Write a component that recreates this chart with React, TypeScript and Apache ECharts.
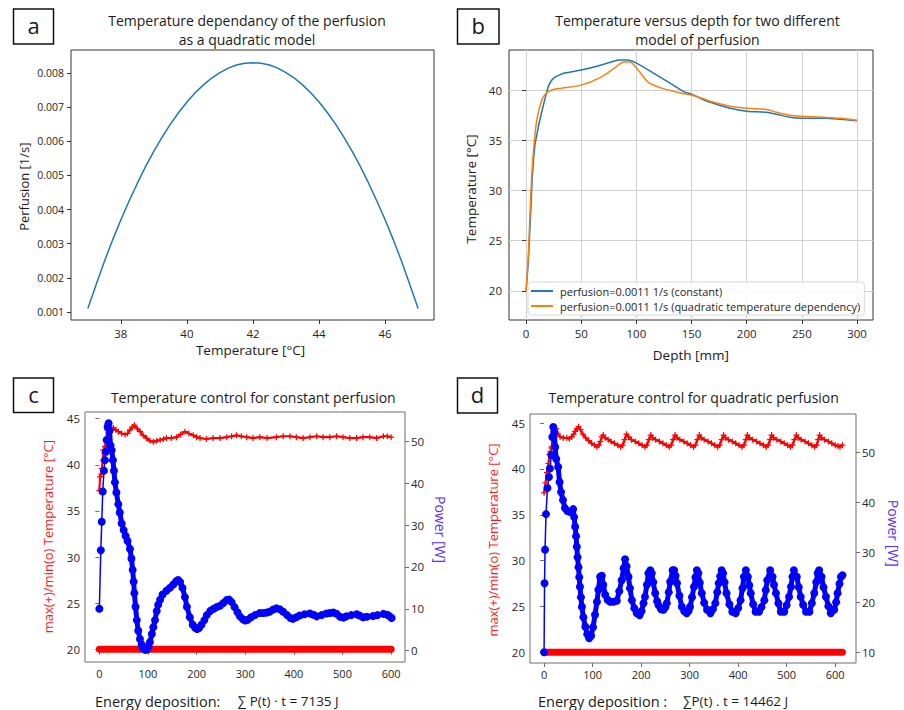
import React, { useEffect, useRef } from "react";
import * as echarts from "echarts";

// ---------- Panel a: perfusion vs temperature ----------
const tempA = [37, 37.25, 37.5, 37.75, 38, 38.25, 38.5, 38.75, 39, 39.25, 39.5, 39.75, 40, 40.25, 40.5, 40.75, 41, 41.25, 41.5, 41.75, 42, 42.25, 42.5, 42.75, 43, 43.25, 43.5, 43.75, 44, 44.25, 44.5, 44.75, 45, 45.25, 45.5, 45.75, 46, 46.25, 46.5, 46.75, 47];
const perfA = [0.0011, 0.0018, 0.00248, 0.00311, 0.0037, 0.00425, 0.00477, 0.00526, 0.00571, 0.00612, 0.0065, 0.00684, 0.00715, 0.00742, 0.00765, 0.00785, 0.00801, 0.00814, 0.00823, 0.00828, 0.0083, 0.00828, 0.00823, 0.00814, 0.00801, 0.00785, 0.00765, 0.00742, 0.00715, 0.00684, 0.0065, 0.00612, 0.00571, 0.00526, 0.00477, 0.00425, 0.0037, 0.00311, 0.00248, 0.0018, 0.0011];
const ticksAX = [38, 40, 42, 44, 46];
const ticksAY = [0.001, 0.002, 0.003, 0.004, 0.005, 0.006, 0.007, 0.008];

// ---------- Panel b: temperature vs depth ----------
const depthConst = [0, 2, 4, 6, 8, 10, 12, 15, 18, 21, 25, 30, 35, 50, 65, 77, 85, 92, 100, 114, 129, 144, 150, 162, 167, 185, 200, 218, 227, 239, 250, 270, 285, 300];
const tempConst = [20, 23, 27.5, 32, 34.5, 35.7, 36.8, 38.2, 39.5, 40.6, 41.2, 41.5, 41.7, 42.0, 42.4, 42.8, 43.0, 43.0, 42.7, 41.8, 40.8, 39.8, 39.6, 39.0, 38.8, 38.2, 37.9, 37.8, 37.6, 37.3, 37.2, 37.2, 37.1, 36.95];
const depthQuad = [0, 2, 4, 6, 8, 10, 13.6, 16.6, 22.7, 32, 50, 68, 80, 89, 94, 101.5, 110.6, 122.7, 141, 150, 162, 167, 185, 200, 218, 227, 239, 250, 270, 285, 300];
const tempQuad = [20, 23.5, 29, 33, 35.5, 37.2, 38.8, 39.5, 40.0, 40.2, 40.5, 41.3, 42.2, 42.8, 42.8, 42.0, 40.8, 40.2, 39.7, 39.5, 39.1, 38.9, 38.4, 38.2, 38.07, 37.8, 37.5, 37.4, 37.3, 37.2, 37.0];
const ticksBX = [0, 50, 100, 150, 200, 250, 300];
const ticksBY = [20, 25, 30, 35, 40];
const legendB = ["perfusion=0.0011 1/s (constant)", "perfusion=0.0011 1/s (quadratic temperature dependency)"];

// ---------- Panel c: constant perfusion control ----------
const minTempC: number[][] = [[0, 20], [100, 20], [200, 20], [300, 20], [400, 20], [500, 20], [600, 20]];
const maxTempC: number[][] = [[0, 37.2], [1.5, 38.7], [4, 39], [5, 39.6], [7, 40.5], [8, 41.6], [10, 41.3], [12, 42], [14, 42.7], [16, 43.8], [19, 43.5], [22, 44.1], [26, 43.8], [29, 44], [34, 43.8], [39, 43.6], [46, 43.4], [53, 43.3], [58, 43.4], [63, 43.8], [68, 44.1], [72, 44.3], [78, 43.9], [84, 43.6], [90, 43.2], [97, 42.9], [104, 42.6], [111, 42.5], [118, 42.6], [125, 42.7], [132, 42.8], [138, 42.9], [148, 42.9], [159, 43], [167, 43.3], [176, 43.6], [184, 43.4], [193, 43.2], [200, 43], [207, 42.9], [220, 42.8], [234, 42.9], [248, 42.9], [262, 43], [272, 43.1], [282, 43.2], [292, 43.1], [303, 43], [316, 42.9], [330, 43], [345, 42.9], [364, 43], [378, 43.1], [392, 43.1], [405, 43], [419, 42.9], [433, 43], [447, 43.1], [460, 43], [474, 43], [488, 43.1], [501, 43], [515, 42.9], [529, 42.9], [542, 43], [556, 43], [570, 42.9], [584, 43.1], [592, 43.1], [600, 43]];
const powerC: number[][] = [[0, 10], [3, 24], [5, 30.8], [7, 38], [9.5, 43], [11.5, 45.5], [13.5, 47.5], [15, 50.3], [17, 53.5], [19, 54.3], [21, 52.5], [23, 49], [25.5, 47.9], [28, 45.5], [30, 43], [32, 40.2], [35, 37.8], [39, 35], [42, 33], [46, 30.4], [50, 28.8], [54, 27.4], [58, 26.2], [63, 24.3], [66, 22], [68.5, 19.3], [70.5, 16.5], [72, 13.7], [74.5, 10.5], [77, 7.3], [80, 4.8], [83.5, 2.8], [87, 1.5], [90, 0.6], [94, 0.2], [98, 0.3], [101, 1], [104, 2], [108, 4], [111, 5.6], [114.5, 7.3], [118, 9.5], [121, 11], [125, 12.2], [130, 13.4], [138, 14.3], [145, 15], [152, 15.8], [158, 16.6], [162, 16.9], [166, 16.4], [171, 15], [176, 12.8], [180, 10.5], [186, 8], [192, 6.2], [197, 5.5], [201, 5.2], [205, 5.4], [210, 6.2], [216, 7.3], [221, 8.5], [228, 9.5], [235, 10], [241, 10.4], [248, 10.7], [255, 11.4], [262, 12.1], [267, 12.2], [272, 11.6], [278, 10.4], [284, 9.2], [289, 8.2], [295, 7.5], [300, 7.2], [305, 7.4], [312, 8], [320, 8.5], [330, 9], [337, 9], [344, 9.1], [350, 9.3], [357, 9.8], [364, 10.1], [371, 9.9], [378, 9.3], [386, 8.5], [393, 7.8], [398, 7.6], [405, 8], [412, 8.4], [422, 8.7], [433, 8.9], [440, 8.6], [447, 8.2], [457, 8.5], [467, 8.9], [474, 9], [481, 9.1], [488, 8.8], [495, 8.1], [502, 7.9], [508, 8.2], [518, 8.5], [529, 8.7], [535, 8.4], [542, 8], [550, 8.1], [563, 8.3], [572, 8.5], [584, 8.8], [592, 8.6], [597, 8.2], [601, 7.8]];

// ---------- Panel d: quadratic perfusion control ----------
const minTempD: number[][] = [[0, 20], [100, 20], [200, 20], [300, 20], [400, 20], [500, 20], [615, 20]];
const maxTempD: number[][] = [[0, 37.4], [3, 38.5], [6, 39.6], [9, 40.6], [11, 41.6], [13, 41.9], [15, 42.3], [17, 42.5], [19, 43.8], [22, 44.2], [25, 44.4], [28, 43.9], [33, 43.5], [40, 43.4], [47, 43.4], [52, 43.3], [57, 43.5], [61, 43.8], [64, 44.1], [68, 44.4], [71, 44.6], [75, 44.3], [80, 43.8], [86, 43.4], [92, 43.1], [98, 42.8], [104, 42.6], [109, 42.4], [113, 42.6], [116, 43], [119, 43.5], [122, 43.7], [126, 43.4], [132, 43.2], [138, 43], [145, 42.8], [152, 42.6], [158, 42.4], [162, 42.6], [166, 43.2], [170, 43.8], [174, 43.5], [180, 43.2], [188, 43], [195, 42.8], [202, 42.6], [208, 42.4], [212, 42.6], [216, 43.2], [220, 43.7], [224, 43.4], [230, 43.2], [238, 43], [245, 42.8], [252, 42.6], [258, 42.4], [262, 42.6], [266, 43.2], [270, 43.7], [274, 43.4], [280, 43.2], [288, 43], [295, 42.8], [302, 42.6], [308, 42.4], [312, 42.6], [316, 43.2], [320, 43.7], [324, 43.4], [330, 43.2], [338, 43], [345, 42.8], [352, 42.6], [358, 42.4], [362, 42.6], [366, 43.2], [370, 43.7], [374, 43.4], [380, 43.2], [388, 43], [395, 42.8], [402, 42.6], [408, 42.4], [412, 42.6], [416, 43.2], [419, 43.7], [423, 43.4], [430, 43.2], [438, 43], [445, 42.8], [452, 42.6], [458, 42.4], [462, 42.6], [466, 43.2], [469, 43.7], [473, 43.4], [480, 43.2], [488, 43], [495, 42.8], [502, 42.6], [508, 42.4], [512, 42.6], [516, 43.2], [520, 43.7], [524, 43.4], [530, 43.2], [538, 43], [545, 42.8], [552, 42.6], [558, 42.4], [562, 42.6], [565, 43.2], [568, 43.7], [572, 43.4], [578, 43.2], [586, 43], [593, 42.8], [600, 42.6], [606, 42.5], [610, 42.4], [615, 42.6]];
const powerD: number[][] = [[0, 10], [1, 23.8], [2, 30.5], [4, 37.6], [7, 42.8], [10, 45], [12, 46.7], [15, 49.4], [17, 53], [19, 55], [21, 54], [23, 51], [25, 48.6], [29, 47], [32, 44], [35, 42], [39, 40.4], [43, 38.8], [48, 38.2], [54, 38], [60, 38.6], [62, 37], [64, 35.1], [66, 33.2], [67.5, 31.1], [69, 29], [71, 27], [72.5, 25], [74, 23.1], [76, 21], [78, 19.1], [81, 17], [85, 15.1], [89, 13.6], [93, 12.8], [97, 13.3], [101, 15], [105, 17.5], [109, 20.1], [112, 22.5], [115.5, 25.1], [119, 25.3], [122, 23.5], [126, 21.5], [131, 20.5], [136, 20.1], [143, 20.1], [150, 20.3], [155, 22.2], [160, 24.4], [164, 26.8], [167, 28.6], [170, 27.2], [174, 25.1], [177, 22.8], [181, 20.4], [186, 18.8], [191, 17.8], [197, 17.4], [201, 18.2], [205, 19.8], [208, 21.1], [212, 23.5], [215, 25.8], [219, 26.4], [222, 25.8], [225, 24], [229, 21.8], [233, 20.2], [236, 19.4], [241, 18.6], [246, 18.5], [250, 19], [253, 19.8], [257, 22], [260, 24.1], [265, 26.4], [268, 26.4], [271, 25.3], [274, 23.8], [279, 21.3], [284, 19.1], [289, 18.2], [294, 17.8], [298, 18.3], [301, 19.1], [305, 21], [309, 23.1], [312, 25], [315, 26.4], [318, 25.8], [321, 23.9], [325, 21.8], [330, 19.9], [336, 18.5], [343, 17.8], [348, 18.6], [353, 19.8], [357, 22], [360, 23.8], [363, 25.2], [366, 26.4], [369, 25.8], [372, 24], [376, 21.8], [382, 19.6], [388, 18.1], [395, 17.8], [400, 18.8], [405, 20.4], [409, 22.8], [412, 25.1], [416, 26.4], [420, 25.1], [423, 23.4], [426, 21.8], [431, 19.6], [436, 18.1], [443, 18.1], [448, 19], [454, 20.4], [457, 22.4], [460, 24.4], [466, 26.4], [471, 25.1], [474, 23.5], [478, 21.8], [483, 19.8], [488, 18.1], [495, 18.1], [500, 19.4], [505, 21.1], [509, 23.1], [512, 25.1], [515, 26.4], [521, 25.1], [525, 23], [529, 21.1], [534, 19.5], [540, 18.1], [547, 18.1], [552, 19.8], [557, 21.8], [561, 24], [564, 25.8], [567, 26.4], [572, 25.1], [576, 23], [581, 21.1], [586, 19.2], [591, 17.8], [598, 18.5], [602, 20], [605, 21.8], [609, 23.7], [612, 25.1], [615, 25.4]];

const ticksCX = [0, 100, 200, 300, 400, 500, 600];
const ticksTempY = [20, 25, 30, 35, 40, 45];
const ticksPowC = [0, 10, 20, 30, 40, 50];
const ticksPowD = [10, 20, 30, 40, 50];

const TICK_FONT = "'Open Sans', 'Noto Sans', sans-serif";
const TEXT_FONT = "'Open Sans', 'Noto Sans', sans-serif";
const PLUS = "path://M4,0H6V4H10V6H6V10H4V6H0V4H4Z";

function axis(grid: number, min: number, max: number, ticks: number[], extra: any = {}) {
  const { labelMargin = 6, fmt, position, tickColor = "#333", labelSize = 11 } = extra;
  return {
    type: "value",
    gridIndex: grid,
    min,
    max,
    position,
    axisLine: { show: false },
    axisTick: { show: true, customValues: ticks, length: 4, lineStyle: { color: tickColor, width: 1 } },
    axisLabel: {
      customValues: ticks,
      margin: labelMargin,
      color: "#262626",
      fontSize: labelSize,
      fontFamily: TICK_FONT,
      formatter: fmt || ((v: number) => String(v)),
    },
    splitLine: { show: false },
  };
}

function txt(text: string, x: number, y: number, size: number, opts: any = {}) {
  return {
    type: "text",
    x,
    y,
    rotation: opts.rotation || 0,
    z: 100,
    style: {
      text,
      fill: opts.color || "#1a1a1a",
      font: `${size}px ${TEXT_FONT}`,
      align: opts.align || "center",
      verticalAlign: "middle",
      textAlign: opts.align || "center",
      textVerticalAlign: "middle",
    },
  };
}

function box(x: number, y: number, w: number, h: number) {
  return { type: "rect", z: 100, shape: { x, y, width: w, height: h }, style: { fill: "#fff", stroke: "#111", lineWidth: 1.5 } };
}

export default function App() {
  const ref = useRef<HTMLDivElement>(null);
  useEffect(() => {
    if (!ref.current) return;
    const chart = echarts.init(ref.current, null, { renderer: "svg" });
    const gridStyle = (c: string) => ({ show: true, borderColor: c, borderWidth: 1, backgroundColor: "transparent" });
    const option: any = {
      animation: false,
      backgroundColor: "#fff",
      grid: [
        { left: 71, top: 50, width: 363, height: 270, ...gridStyle("#333") },
        { left: 509, top: 50, width: 364, height: 270, ...gridStyle("#333") },
        { left: 85, top: 412, width: 320, height: 250, ...gridStyle("#6e6e6e") },
        { left: 530, top: 414, width: 326, height: 249, ...gridStyle("#6e6e6e") },
      ],
      xAxis: [
        axis(0, 36.49, 47.48, ticksAX, { labelMargin: 7, labelSize: 11.5 }),
        { ...axis(1, -15.5, 314.5, ticksBX, { labelMargin: 7, labelSize: 11.5 }), splitLine: { show: true, lineStyle: { color: "#d0d0d0", width: 1 } } },
        axis(2, -29.5, 628.5, ticksCX, { labelMargin: 6, tickColor: "#6e6e6e" }),
        axis(3, -29, 643, ticksCX, { labelMargin: 6, tickColor: "#6e6e6e" }),
      ],
      yAxis: [
        axis(0, 0.000765, 0.00867, ticksAY, { labelMargin: 7, fmt: (v: number) => v.toFixed(3), labelSize: 10.5 }),
        { ...axis(1, 17.1, 44.0, ticksBY, { labelMargin: 7, labelSize: 11.5 }), splitLine: { show: true, lineStyle: { color: "#d0d0d0", width: 1 } } },
        axis(2, 18.62, 45.73, ticksTempY, { labelMargin: 5, tickColor: "#6e6e6e", labelSize: 11.5 }),
        axis(2, -2.7, 57.0, ticksPowC, { labelMargin: 6, tickColor: "#6e6e6e", position: "right", labelSize: 11.5 }),
        axis(3, 18.83, 46.0, ticksTempY, { labelMargin: 5, tickColor: "#6e6e6e", labelSize: 11.5 }),
        axis(3, 7.86, 57.6, ticksPowD, { labelMargin: 6, tickColor: "#6e6e6e", position: "right", labelSize: 11.5 }),
      ],
      legend: {
        data: legendB,
        left: 528,
        top: 282,
        orient: "vertical",
        icon: "rect",
        itemWidth: 22,
        itemHeight: 2,
        itemGap: 3,
        padding: [3, 4, 3, 3],
        selectedMode: false,
        backgroundColor: "rgba(255,255,255,0.85)",
        borderColor: "#d8d8d8",
        borderWidth: 1,
        borderRadius: 3,
        textStyle: { fontSize: 11, lineHeight: 12, fontFamily: TICK_FONT, color: "#262626", padding: [0, 0, 0, 2] },
      },
      series: [
        {
          name: "perfusion",
          type: "line",
          xAxisIndex: 0,
          yAxisIndex: 0,
          data: tempA.map((t, i) => [t, perfA[i]]),
          showSymbol: false,
          lineStyle: { color: "#1f77b4", width: 1.5 },
          itemStyle: { color: "#1f77b4" },
        },
        {
          name: legendB[0],
          type: "line",
          xAxisIndex: 1,
          yAxisIndex: 1,
          data: depthConst.map((d, i) => [d, tempConst[i]]),
          smooth: 0.3,
          showSymbol: false,
          lineStyle: { color: "#1f77b4", width: 1.5 },
          itemStyle: { color: "#1f77b4" },
        },
        {
          name: legendB[1],
          type: "line",
          xAxisIndex: 1,
          yAxisIndex: 1,
          data: depthQuad.map((d, i) => [d, tempQuad[i]]),
          smooth: 0.3,
          showSymbol: false,
          lineStyle: { color: "#ff7f0e", width: 1.5 },
          itemStyle: { color: "#ff7f0e" },
        },
        // Panel c
        {
          name: "min temp c",
          type: "line",
          xAxisIndex: 2,
          yAxisIndex: 2,
          data: minTempC,
          showSymbol: false,
          lineStyle: { color: "#ff0000", width: 7, cap: "round" },
        },
        {
          name: "max temp c",
          type: "line",
          xAxisIndex: 2,
          yAxisIndex: 2,
          data: maxTempC,
          symbol: PLUS,
          symbolSize: 6,
          showAllSymbol: true,
          lineStyle: { color: "#ff0000", width: 2.2 },
          itemStyle: { color: "#ff0000" },
        },
        {
          name: "power band c",
          type: "line",
          xAxisIndex: 2,
          yAxisIndex: 3,
          data: powerC.filter((p) => p[0] >= 19),
          showSymbol: false,
          lineStyle: { color: "#0000ff", width: 5, cap: "round", join: "round" },
        },
        {
          name: "power c",
          type: "line",
          xAxisIndex: 2,
          yAxisIndex: 3,
          data: powerC,
          symbol: "circle",
          symbolSize: 8,
          showAllSymbol: true,
          lineStyle: { color: "#0000ff", width: 1.5 },
          itemStyle: { color: "#0000ff" },
        },
        // Panel d
        {
          name: "min temp d",
          type: "line",
          xAxisIndex: 3,
          yAxisIndex: 4,
          data: minTempD,
          showSymbol: false,
          lineStyle: { color: "#ff0000", width: 7, cap: "round" },
        },
        {
          name: "max temp d",
          type: "line",
          xAxisIndex: 3,
          yAxisIndex: 4,
          data: maxTempD,
          symbol: PLUS,
          symbolSize: 6,
          showAllSymbol: true,
          lineStyle: { color: "#ff0000", width: 2.2 },
          itemStyle: { color: "#ff0000" },
        },
        {
          name: "power band d",
          type: "line",
          xAxisIndex: 3,
          yAxisIndex: 5,
          data: powerD.filter((p) => p[0] >= 19),
          showSymbol: false,
          lineStyle: { color: "#0000ff", width: 5, cap: "round", join: "round" },
        },
        {
          name: "power d",
          type: "line",
          xAxisIndex: 3,
          yAxisIndex: 5,
          data: powerD,
          symbol: "circle",
          symbolSize: 8,
          showAllSymbol: true,
          lineStyle: { color: "#0000ff", width: 1.5 },
          itemStyle: { color: "#0000ff" },
        },
      ],
      graphic: [
        box(13.5, 9, 40, 35),
        txt("a", 33.5, 25, 22),
        box(457.5, 9, 41.5, 35),
        txt("b", 478.2, 25, 22),
        box(13.5, 378, 40, 34.5),
        txt("c", 33.5, 394, 22),
        box(457.5, 378, 40, 35),
        txt("d", 477.5, 394, 22),
        txt("Temperature dependancy of the perfusion", 247, 20, 14),
        txt("as a quadratic model", 247, 39.5, 14),
        txt("Temperature versus depth for two different", 697.5, 20, 14),
        txt("model of perfusion", 697.5, 39.5, 14),
        txt("Temperature control for constant perfusion", 253.3, 397, 14),
        txt("Temperature control for quadratic perfusion", 693.7, 397, 14),
        txt("Perfusion [1/s]", 24, 186.7, 13, { rotation: Math.PI / 2 }),
        txt("Temperature [°C]", 250.5, 350, 13.5),
        txt("Temperature [°C]", 470.7, 189, 13.5, { rotation: Math.PI / 2 }),
        txt("Depth [mm]", 690.8, 355, 13.5),
        txt("max(+)/min(o) Temperature [°C]", 48.3, 536.7, 13, { rotation: Math.PI / 2, color: "#ff1a1a" }),
        txt("Power [W]", 440, 529.5, 14, { rotation: -Math.PI / 2, color: "#5a2eff" }),
        txt("max(+)/min(o) Temperature [°C]", 493.3, 540, 13, { rotation: Math.PI / 2, color: "#ff1a1a" }),
        txt("Power [W]", 893.3, 533.3, 14, { rotation: -Math.PI / 2, color: "#5a2eff" }),
        txt("Energy deposition:", 95, 701, 14.5, { align: "left" }),
        txt("\u2211 P(t) \u00b7 t = 7135 J", 237.7, 701, 13.5, { align: "left" }),
        txt("Energy deposition :", 538, 701, 14.5, { align: "left" }),
        txt("\u2211P(t) . t = 14462 J", 683, 701, 13.5, { align: "left" }),
      ],
    };
    chart.setOption(option);
    return () => chart.dispose();
  }, []);
  return <div ref={ref} style={{ position: "absolute", left: 0, top: 0, width: 904, height: 710 }} />;
}
